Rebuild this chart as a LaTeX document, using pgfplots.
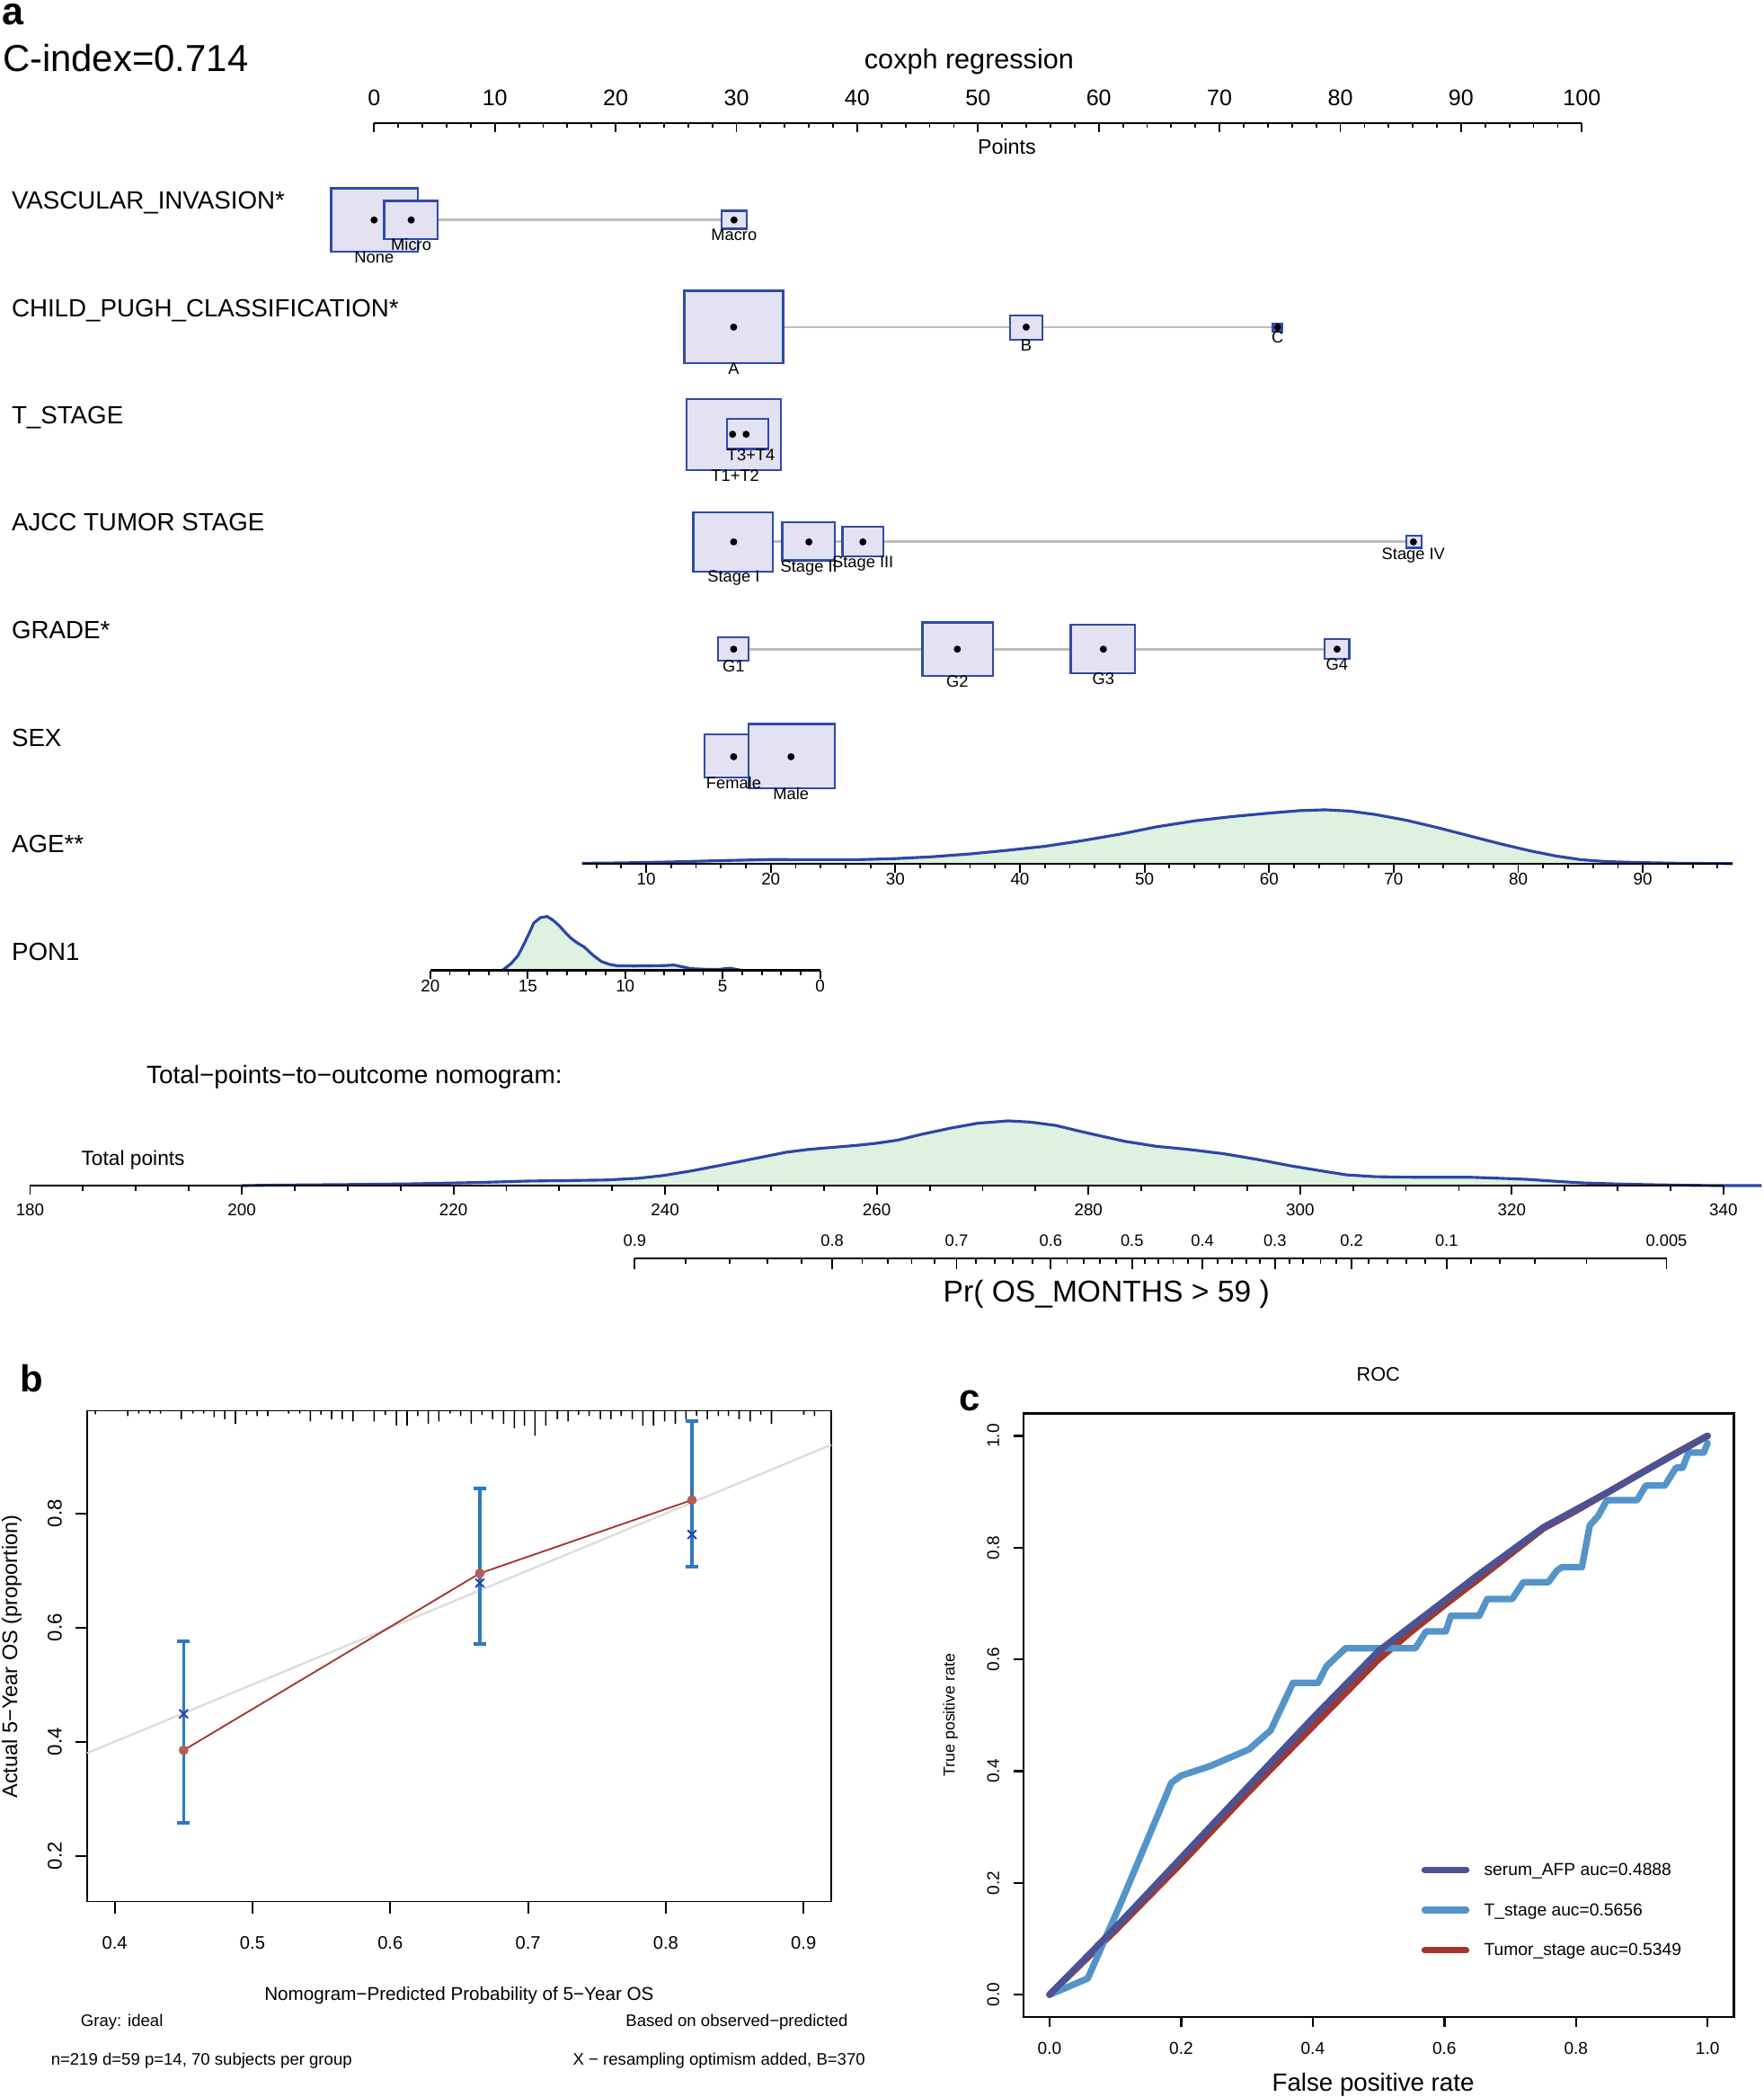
\documentclass[border=0pt]{standalone}
\usepackage{fontspec}
\setmainfont{Liberation Sans}
\usepackage{pgfplots}
\usepackage{pgfplotstable}
\pgfplotsset{compat=1.18}

\newcommand\fs[1]{\fontsize{#1}{#1}\selectfont}

\definecolor{boxfill}{HTML}{E2E2F2}
\definecolor{boxline}{HTML}{2F4BA9}
\definecolor{densfill}{HTML}{DFF1DF}
\definecolor{densline}{HTML}{2C46A8}
\definecolor{conngray}{HTML}{BDBDBD}
\definecolor{idealgray}{HTML}{DCDCDC}
\definecolor{obsred}{HTML}{A3352C}
\definecolor{errblue}{HTML}{2F78C0}
\definecolor{xblue}{HTML}{2A44A8}
\definecolor{afp}{HTML}{4B5394}
\definecolor{tst}{HTML}{5494C8}
\definecolor{tum}{HTML}{A3372D}

% density traces: value, curve height (px of the 1319 px wide view)
\pgfplotstableread{
v h
4.85 0.3
8 0.6
12 1.3
16 2.3
20 3.1
24 3.0
27 3.0
30 3.8
33 5.2
36 7.3
39 10.0
42 13.0
45 17.2
48 22.0
51 27.6
54 32.0
57 35.2
60 37.8
62.5 39.7
64.5 40.3
66.5 39.3
68.5 36.8
71 32.5
73.5 27.0
76 21.0
78.5 15.0
81 9.5
83 5.8
85 3.0
87 1.6
89.5 0.9
93 0.3
97.2 0.1
}\agedens

\pgfplotstableread{
v h
16.3 0
15.85 5.2
15.5 11
15.27 17.5
14.95 27
14.69 35.4
14.35 39.5
14.0 40.3
13.7 37.5
13.37 33.2
13.05 28
12.79 24.2
12.45 20.5
12.1 17.5
11.7 12
11.23 6.7
10.8 4.5
10.38 3.4
9.5 3.3
8.94 3.4
8 3.6
7.5 4
7.1 2.8
6.63 1.3
5.8 0.8
5.19 0.7
4.9 1.3
4.62 1.6
4.3 0.8
4.03 0
}\pondens

\pgfplotstableread{
v h
200 0
202.7 0.3
210 0.8
216 1.3
222.8 2.4
227 3.4
231 3.8
234.5 4.2
237.5 5.5
239.8 7.5
242.5 11
245 14.8
248 19.5
251.4 24.9
253.5 27
255.7 28.5
258 30
259.9 31.6
262 34
264.2 38.3
267 43
269.5 46.6
272.4 48.4
274.5 47.5
276.9 45
279 41
281.1 37.2
283.5 33
286.4 29.4
289.5 27
292.8 23.8
296 19.5
299.1 14.8
302 11
304.4 8
307 6.7
309.7 6.3
313 6.2
316.2 6.2
318.8 5.5
321.4 4.7
324 3.3
326.7 2
330 1.2
333 0.7
336 0.3
339.5 0
343.6 0
}\totdens

% rug of predicted probabilities (tick length in px)
\pgfplotstableread{
p len
0.3859 2.7
0.4094 4.0
0.4174 2.2
0.4255 2.2
0.4332 2.2
0.4483 6.3
0.4567 2.2
0.4645 2.2
0.4722 4.9
0.4799 6.3
0.4876 9.9
0.4957 3.1
0.5034 4.0
0.5111 4.0
0.5262 2.2
0.5343 2.2
0.5420 8.1
0.5497 3.1
0.5574 6.3
0.5651 6.3
0.5729 8.1
0.5883 8.1
0.5964 3.1
0.6044 11.2
0.6122 11.2
0.6199 4.0
0.6276 9.9
0.6353 8.1
0.6434 2.2
0.6511 4.0
0.6588 9.9
0.6666 3.1
0.6743 6.3
0.6823 9.9
0.6901 13.0
0.6974 11.2
0.7051 18.8
0.7129 11.2
0.7213 6.3
0.7290 8.1
0.7367 3.1
0.7444 4.0
0.7525 6.3
0.7602 6.3
0.7676 4.0
0.7757 6.3
0.7834 11.2
0.7911 11.2
0.7992 8.1
0.8069 9.9
0.8146 6.3
0.8223 4.0
0.8301 6.3
0.8381 4.0
0.8455 4.0
0.8532 6.3
0.8613 8.1
0.8690 3.1
0.8767 9.9
0.9002 3.1
0.9079 4.0
}\rugtab

\pgfplotstableread{
fpr tpr
0 0
0.1 0.12
0.2 0.245
0.3 0.37
0.4 0.495
0.5 0.615
0.55 0.66
0.6 0.705
0.65 0.75
0.7 0.793
0.75 0.836
0.8 0.868
0.85 0.9
0.9 0.934
0.95 0.967
1 1
}\rocafp

\pgfplotstableread{
fpr tpr
0 0
0.1 0.115
0.2 0.235
0.3 0.36
0.4 0.48
0.5 0.6
0.55 0.65
0.6 0.697
0.65 0.742
0.7 0.788
0.75 0.834
0.8 0.866
0.9 0.934
0.95 0.968
1 1
}\roctum

\pgfplotstableread{
fpr tpr
0 0
0.058 0.029
0.109 0.166
0.185 0.379
0.2 0.392
0.244 0.409
0.303 0.439
0.336 0.473
0.37 0.558
0.408 0.558
0.421 0.588
0.45 0.62
0.556 0.62
0.572 0.65
0.602 0.65
0.61 0.678
0.653 0.678
0.665 0.708
0.703 0.708
0.72 0.738
0.758 0.738
0.771 0.759
0.779 0.765
0.809 0.765
0.821 0.84
0.834 0.857
0.847 0.885
0.893 0.885
0.906 0.911
0.935 0.911
0.952 0.943
0.962 0.943
0.971 0.97
0.994 0.97
1.0 0.987
}\roctst

\pgfplotsset{
  nomscale/.style={
    scale only axis, clip=false, anchor=north west,
    axis y line=none, axis x line*=top, xtick align=inside,
    height=0.2cm, ymin=-10, ymax=0,
    x axis line style={line width=1pt},
    tick style={black, line width=0.7pt},
    major tick length=0.13cm, minor tick length=0.075cm,
    /pgf/number format/assume math mode=true,
  },
  nombox/.style={fill=boxfill, draw=boxline, line width=0.9pt},
  conn/.style={conngray, line width=1.1pt},
}
\tikzset{
  lvl/.style={font=\fs{7}, anchor=base, inner sep=0pt},
  rowlab/.style={anchor=base west, inner sep=0pt, font=\fs{10.6}},
}

\begin{document}
\begin{tikzpicture}
\useasboundingbox (0,0) rectangle (26.38,-31.36);

% ================= panel a : nomogram =================
\node[anchor=base west, inner sep=0pt, font=\fs{16.5}\bfseries] at (0.02,-0.37) {a};
\node[anchor=base west, inner sep=0pt, font=\fs{16}] at (0.034,-1.066) {C-index=0.714};
\node[anchor=base, inner sep=0pt, font=\fs{11.7}] at (14.496,-1.022) {coxph regression};
\node[anchor=base, inner sep=0pt, font=\fs{8.9}] at (15.06,-2.308) {Points};

\node[rowlab] at (0.168,-3.124) {VASCULAR\_INVASION*};
\node[rowlab] at (0.168,-4.738) {CHILD\_PUGH\_CLASSIFICATION*};
\node[rowlab] at (0.168,-6.342) {T\_STAGE};
\node[rowlab] at (0.168,-7.942) {AJCC TUMOR STAGE};
\node[rowlab] at (0.168,-9.546) {GRADE*};
\node[rowlab] at (0.168,-11.16) {SEX};
\node[rowlab] at (0.168,-12.75) {AGE**};
\node[rowlab] at (0.168,-14.364) {PON1};

\node[anchor=base west, inner sep=0pt, font=\fs{10.7}] at (2.184,-16.202) {Total−points−to−outcome nomogram:};
\node[anchor=base west, inner sep=0pt, font=\fs{8.7}] at (1.21,-17.434) {Total points};
\node[anchor=base, inner sep=0pt, font=\fs{12.85}] at (16.55,-19.476) {Pr( OS\_MONTHS > 59 )};

% Points scale
\begin{axis}[nomscale, at={(5.596cm,-1.84cm)}, width=18.066cm,
  xmin=0, xmax=100, xtick={0,10,...,100}, minor x tick num=4,
  xticklabel style={font=\fs{9.6}, anchor=base, yshift=0.254cm}]
\end{axis}

% categorical predictors
\begin{axis}[at={(5.596cm,-1.84cm)}, anchor=north west, scale only axis,
  width=18.066cm, height=10.16cm, xmin=0, xmax=100, ymin=92, ymax=600,
  y dir=reverse, hide axis, clip=false]
\addplot[conn] coordinates {(0,164.5) (29.8,164.5)};
\addplot[conn] coordinates {(29.77,244.6) (74.8,244.6)};
\addplot[conn] coordinates {(29.68,324.7) (30.8,324.7)};
\addplot[conn] coordinates {(29.77,405.2) (86.05,405.2)};
\addplot[conn] coordinates {(29.77,485.4) (79.73,485.4)};
\addplot[conn] coordinates {(29.77,565.8) (34.52,565.8)};
% VASCULAR_INVASION
\addplot[nombox] coordinates {(-3.565,140.7) (3.631,140.7) (3.631,188.3) (-3.565,188.3)} -- cycle;
\addplot[nombox] coordinates {(0.830,150.1) (5.247,150.1) (5.247,178.8) (0.830,178.8)} -- cycle;
\addplot[nombox] coordinates {(28.76,157.5) (30.84,157.5) (30.84,171) (28.76,171)} -- cycle;
% CHILD_PUGH
\addplot[nombox] coordinates {(25.67,217.4) (33.86,217.4) (33.86,271.6) (25.67,271.6)} -- cycle;
\addplot[nombox] coordinates {(52.65,235.7) (55.35,235.7) (55.35,253.9) (52.65,253.9)} -- cycle;
\addplot[nombox] coordinates {(74.42,242) (75.17,242) (75.17,247.6) (74.42,247.6)} -- cycle;
% T_STAGE
\addplot[nombox] coordinates {(25.86,298.5) (33.68,298.5) (33.68,351.4) (25.86,351.4)} -- cycle;
\addplot[nombox] coordinates {(29.22,313) (32.66,313) (32.66,335.7) (29.22,335.7)} -- cycle;
% AJCC
\addplot[nombox] coordinates {(26.43,383.2) (33.02,383.2) (33.02,427.6) (26.43,427.6)} -- cycle;
\addplot[nombox] coordinates {(33.78,390.6) (38.14,390.6) (38.14,419) (33.78,419)} -- cycle;
\addplot[nombox] coordinates {(38.79,393.7) (42.15,393.7) (42.15,416.1) (38.79,416.1)} -- cycle;
\addplot[nombox] coordinates {(85.49,400.7) (86.71,400.7) (86.71,409.6) (85.49,409.6)} -- cycle;
% GRADE
\addplot[nombox] coordinates {(28.47,476.6) (30.98,476.6) (30.98,493.9) (28.47,493.9)} -- cycle;
\addplot[nombox] coordinates {(45.40,465.4) (51.26,465.4) (51.26,505.3) (45.40,505.3)} -- cycle;
\addplot[nombox] coordinates {(57.68,467.2) (62.98,467.2) (62.98,503.3) (57.68,503.3)} -- cycle;
\addplot[nombox] coordinates {(78.70,478) (80.75,478) (80.75,492.8) (78.70,492.8)} -- cycle;
% SEX
\addplot[nombox] coordinates {(27.36,549) (32.19,549) (32.19,581.5) (27.36,581.5)} -- cycle;
\addplot[nombox] coordinates {(30.98,541.4) (38.14,541.4) (38.14,589.4) (30.98,589.4)} -- cycle;
% level points
\addplot[only marks, mark=*, mark size=1.3pt, black] coordinates {
  (0,164.5) (3.07,164.5) (29.8,164.5)
  (29.77,244.6) (53.99,244.6) (74.8,244.6)
  (29.68,324.7) (30.8,324.7)
  (29.77,405.2) (36.0,405.2) (40.47,405.2) (86.05,405.2)
  (29.77,485.4) (48.29,485.4) (60.38,485.4) (79.73,485.4)
  (29.77,565.8) (34.52,565.8)};
\node[lvl] at (axis cs:0,196.5) {None};
\node[lvl] at (axis cs:3.07,187.3) {Micro};
\node[lvl] at (axis cs:29.8,179.5) {Macro};
\node[lvl] at (axis cs:29.77,280.1) {A};
\node[lvl] at (axis cs:53.99,262.4) {B};
\node[lvl] at (axis cs:74.8,256.1) {C};
\node[lvl] at (axis cs:31.2,344.2) {T3+T4};
\node[lvl] at (axis cs:29.9,359.9) {T1+T2};
\node[lvl] at (axis cs:29.77,435.5) {Stage I};
\node[lvl] at (axis cs:36.0,427.5) {Stage II};
\node[lvl] at (axis cs:40.47,424.6) {Stage III};
\node[lvl] at (axis cs:86.05,418.1) {Stage IV};
\node[lvl] at (axis cs:29.77,502.4) {G1};
\node[lvl] at (axis cs:48.29,513.8) {G2};
\node[lvl] at (axis cs:60.38,511.8) {G3};
\node[lvl] at (axis cs:79.73,501.3) {G4};
\node[lvl] at (axis cs:29.77,590) {Female};
\node[lvl] at (axis cs:34.52,597.9) {Male};
\end{axis}

% AGE
\begin{axis}[nomscale, axis on top, at={(8.706cm,-12.916cm)}, width=17.21cm,
  xmin=4.85, xmax=97.2, xtick={10,20,...,90}, minor xtick={6,8,...,96},
  xticklabel style={font=\fs{7.2}, anchor=base, yshift=-0.318cm}]
\addplot[fill=densfill, draw=none] table[x=v,y=h] {\agedens};
\addplot[densline, line width=1.2pt] table[x=v,y=h] {\agedens};
\end{axis}

% PON1
\begin{axis}[nomscale, axis on top, at={(6.436cm,-14.512cm)}, width=5.832cm,
  xmin=0, xmax=20, x dir=reverse, xtick={0,5,...,20}, minor x tick num=4,
  xticklabel style={font=\fs{7.2}, anchor=base, yshift=-0.322cm}]
\addplot[fill=densfill, draw=none] table[x=v,y=h] {\pondens};
\addplot[densline, line width=1.2pt] table[x=v,y=h] {\pondens};
\end{axis}

% Total points
\begin{axis}[nomscale, axis on top, at={(0.45cm,-17.73cm)}, width=25.33cm,
  xmin=180, xmax=340, xtick={180,200,...,340}, minor x tick num=3,
  xticklabel style={font=\fs{7.2}, anchor=base, yshift=-0.444cm}]
\addplot[fill=densfill, draw=none] table[x=v,y=h] {\totdens};
\addplot[densline, line width=1.2pt] table[x=v,y=h] {\totdens};
\end{axis}

% Pr( OS_MONTHS > 59 )
\begin{axis}[nomscale, at={(9.494cm,-18.818cm)}, width=15.434cm,
  xmin=237.12, xmax=334.61,
  xtick={237.12,255.79,267.53,276.44,284.11,290.76,297.61,304.86,313.83,334.61},
  xticklabels={0.9,0.8,0.7,0.6,0.5,0.4,0.3,0.2,0.1,0.005},
  minor xtick={241.92,246.09,249.69,252.92,258.62,261.01,263.29,265.48,269.39,271.12,272.85,274.71,277.97,279.55,281.07,282.61,285.35,286.59,287.99,289.43,292.2,293.54,294.91,296.21,298.99,300.29,301.92,303.39,306.48,308.21,310.02,311.78,316.11,318.83,322.16,327.05},
  major tick length=0.16cm, minor tick length=0.08cm,
  xticklabel style={font=\fs{7}, anchor=base, yshift=0.176cm}]
\end{axis}

% ================= panel b : calibration =================
\node[anchor=base west, inner sep=0pt, font=\fs{16}\bfseries] at (0.30,-20.81) {b};
\node[rotate=90, anchor=base, inner sep=0pt, font=\fs{9}] at (0.258,-24.774) {Actual 5−Year OS (proportion)};
\node[anchor=base, inner sep=0pt, font=\fs{7.9}] at (6.868,-29.916) {Nomogram−Predicted Probability of 5−Year OS};
\node[anchor=base west, inner sep=0pt, font=\fs{7.1}] at (1.202,-30.308) {Gray: ideal};
\node[anchor=base east, inner sep=0pt, font=\fs{7.1}] at (12.69,-30.308) {Based on observed−predicted};
\node[anchor=base west, inner sep=0pt, font=\fs{7.1}] at (0.756,-30.88) {n=219 d=59 p=14, 70 subjects per group};
\node[anchor=base east, inner sep=0pt, font=\fs{7.1}] at (12.948,-30.88) {X − resampling optimism added, B=370};

\begin{axis}[at={(1.304cm,-21.096cm)}, anchor=north west, scale only axis,
  width=11.128cm, height=7.34cm,
  xmin=0.38, xmax=0.92, ymin=0.12, ymax=0.98,
  xtick={0.4,0.5,0.6,0.7,0.8,0.9}, ytick={0.2,0.4,0.6,0.8},
  tick align=outside, tick pos=left,
  axis line style={line width=0.7pt}, tick style={black, line width=0.7pt},
  major tick length=0.18cm,
  /pgf/number format/assume math mode=true,
  xticklabel style={font=\fs{7.7}, anchor=base, yshift=-0.534cm},
  yticklabel style={font=\fs{8.5}, rotate=90, anchor=base, yshift=0.2cm},
  clip=false]
\addplot[idealgray, line width=0.9pt] coordinates {(0.38,0.38) (0.92,0.92)};
\addplot[xblue, only marks, mark=x, mark size=2.6pt, mark options={line width=0.8pt},
  error bars/.cd, y dir=both, y explicit,
  error bar style={errblue, line width=1.3pt},
  error mark options={rotate=90, errblue, mark size=2.7pt, line width=1.6pt}]
  coordinates {
  (0.45,0.4487) += (0,0.1278) -= (0,0.1907)
  (0.665,0.678) += (0,0.1657) -= (0,0.1066)
  (0.819,0.763) += (0,0.199) -= (0,0.057)};
\addplot[obsred, line width=0.7pt, mark=*, mark size=1.7pt, mark options={fill=obsred!80!white, draw=obsred!80!white}]
  coordinates {(0.45,0.385) (0.665,0.695) (0.819,0.8235)};
\end{axis}

% rug of predictions along the top edge
\begin{axis}[at={(1.304cm,-21.096cm)}, anchor=north west, scale only axis,
  width=11.128cm, height=0.6cm, xmin=0.38, xmax=0.92, ymin=0, ymax=30,
  y dir=reverse, hide axis, clip=false]
\addplot[ybar, bar width=0.6pt, fill=black, draw=none] table[x=p,y=len] {\rugtab};
\end{axis}

% ================= panel c : ROC =================
\node[anchor=base, inner sep=0pt, font=\fs{8.3}] at (20.616,-20.654) {ROC};
\node[anchor=base west, inner sep=0pt, font=\fs{16}\bfseries] at (14.34,-21.096) {c};
\node[rotate=90, anchor=base, inner sep=0pt, font=\fs{6.8}] at (14.28,-25.65) {True positive rate};
\node[anchor=base, inner sep=0pt, font=\fs{10.6}] at (20.54,-31.272) {False positive rate};

\begin{axis}[at={(15.306cm,-21.138cm)}, anchor=north west, scale only axis,
  width=10.63cm, height=9.026cm,
  xmin=-0.04, xmax=1.04, ymin=-0.04, ymax=1.04,
  xtick={0,0.2,0.4,0.6,0.8,1}, ytick={0,0.2,0.4,0.6,0.8,1},
  tick align=outside, tick pos=left,
  axis line style={line width=0.9pt}, tick style={black, line width=0.9pt},
  major tick length=0.15cm,
  /pgf/number format/assume math mode=true,
  xticklabel style={font=\fs{7.3}, anchor=base, yshift=-0.406cm,
    /pgf/number format/fixed, /pgf/number format/fixed zerofill, /pgf/number format/precision=1},
  yticklabel style={font=\fs{7.3}, rotate=90, anchor=base, yshift=0.21cm,
    /pgf/number format/fixed, /pgf/number format/fixed zerofill, /pgf/number format/precision=1},
  legend style={at={(axis cs:0.5644,0.2445)}, anchor=north west, draw=none, fill=none,
    inner sep=0pt, font=\fs{7.37}, row sep=0.26cm,
    nodes={inner sep=0pt, text height=0.72em, text depth=0.25em},
    /tikz/every odd column/.append style={column sep=0.22cm}},
  legend cell align=left,
  legend image code/.code={\draw[line cap=round,#1] (0cm,0cm) -- (0.62cm,0cm);}]
\addplot[tum, line width=2.8pt, line cap=round, line join=round, forget plot] table[x=fpr,y=tpr] {\roctum};
\addplot[tst, line width=2.8pt, line cap=round, line join=round, forget plot] table[x=fpr,y=tpr] {\roctst};
\addplot[afp, line width=2.8pt, line cap=round, line join=round, forget plot] table[x=fpr,y=tpr] {\rocafp};
\addlegendimage{afp, line width=2.8pt}
\addlegendentry{serum\_AFP auc=0.4888}
\addlegendimage{tst, line width=2.8pt}
\addlegendentry{T\_stage auc=0.5656}
\addlegendimage{tum, line width=2.8pt}
\addlegendentry{Tumor\_stage auc=0.5349}
\end{axis}

\end{tikzpicture}
\end{document}
